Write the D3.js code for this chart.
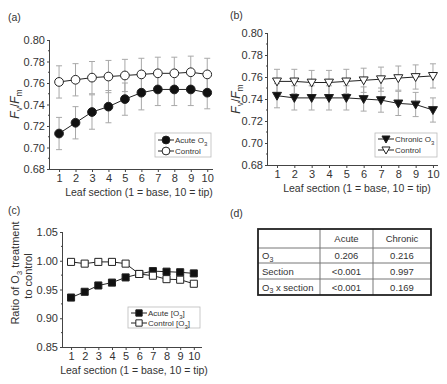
<!DOCTYPE html>
<html><head><meta charset="utf-8">
<script src="https://cdn.jsdelivr.net/npm/d3@7"></script>
<style>
body{margin:0;background:#fff;}
svg{display:block;font-family:"Liberation Sans",Arial,sans-serif;}
</style></head><body>
<svg id="c" width="447" height="384"></svg>
<script>
const sections = [1,2,3,4,5,6,7,8,9,10];
// Panel (a)
const acuteFvFm = [0.713,0.723,0.733,0.738,0.745,0.751,0.754,0.754,0.754,0.751];
const acuteErr  = [0.015,0.015,0.016,0.015,0.015,0.016,0.015,0.015,0.015,0.015];
const ctrlAFvFm = [0.761,0.763,0.765,0.766,0.767,0.768,0.769,0.769,0.770,0.768];
const ctrlAErr  = [0.015,0.015,0.015,0.015,0.015,0.015,0.015,0.015,0.015,0.015];
// Panel (b)
const chronicFvFm = [0.743,0.741,0.741,0.741,0.741,0.740,0.739,0.736,0.735,0.730];
const chronicErr  = [0.011,0.011,0.011,0.011,0.011,0.011,0.011,0.011,0.011,0.011];
const ctrlBFvFm   = [0.756,0.756,0.755,0.755,0.756,0.757,0.758,0.759,0.760,0.761];
const ctrlBErr    = [0.011,0.011,0.011,0.011,0.011,0.011,0.011,0.011,0.011,0.011];
// Panel (c)
const acuteRatio = [0.936,0.946,0.957,0.962,0.971,0.977,0.982,0.981,0.980,0.978];
const ctrlRatio  = [0.998,0.995,0.998,0.998,0.995,0.977,0.974,0.968,0.967,0.960];
// Tick labels
const fvTicks = [0.68,0.70,0.72,0.74,0.76,0.78,0.80];
const ratioTicks = [0.85,0.90,0.95,1.00,1.05];
// Panel (d) table
const tableHeader = ["", "Acute", "Chronic"];
const tableRows = [["O3","0.206","0.216"],["Section","<0.001","0.997"],["O3 x section","<0.001","0.169"]];

const svg = d3.select("#c");
const TXT = "#333", AX = "#444", LINE="#222", ERR="#a8a8a8";

function addRich(t, parts, subSize){
  parts.forEach(p=>{
    const ts = t.append("tspan").text(p.t);
    if(p.i) ts.attr("font-style","italic");
    if(p.sub) ts.attr("dy", 2.5).attr("font-size", subSize);
    if(p.back) ts.attr("dy", -2.5);
  });
}

function panel(o){
  const g = svg.append("g");
  const x = d3.scaleLinear().domain(o.xd).range(o.xr);
  const y = d3.scaleLinear().domain(o.yd).range(o.yr);
  const ax = d3.axisBottom(x).tickValues(sections).tickSize(3).tickPadding(2).tickFormat(d3.format("d"));
  const gx = g.append("g").attr("transform",`translate(0,${o.yr[0]})`).call(ax);
  const ay = d3.axisLeft(y).tickValues(o.yticks).tickSize(3).tickPadding(2).tickFormat(d3.format(".2f"));
  const gy = g.append("g").attr("transform",`translate(${o.xr[0]},0)`).call(ay);
  const minor = [];
  for(let i=0;i<o.yticks.length-1;i++) minor.push((o.yticks[i]+o.yticks[i+1])/2);
  g.append("g").selectAll("line").data(minor).join("line")
    .attr("x1",o.xr[0]).attr("x2",o.xr[0]-2).attr("y1",d=>y(d)).attr("y2",d=>y(d)).attr("stroke",AX);
  [gx,gy].forEach(a=>{
    a.select(".domain").attr("stroke",AX);
    a.selectAll(".tick line").attr("stroke",AX);
    a.selectAll("text").attr("fill",TXT).attr("font-size",11).attr("font-family","Liberation Sans, Arial, sans-serif");
  });
  gx.select(".domain").attr("d",`M${o.xr[0]},0.5H${o.xr[1]}`);
  gy.select(".domain").attr("d",`M-0.5,${o.yr[0]}V${o.yr[1]}`);
  g.append("text").attr("x",(o.xlabX)).attr("y",o.yr[0]+27).attr("text-anchor","middle")
    .attr("font-size",10.5).attr("fill",TXT).text("Leaf section (1 = base, 10 = tip)");
  g.append("text").attr("x",o.tag[0]).attr("y",o.tag[1]).attr("font-size",10.5).attr("fill",TXT).text(o.tag[2]);
  o.series.forEach(s=>{
    if(!s.err) return;
    const eg = g.append("g").attr("stroke",ERR).attr("stroke-width",1);
    sections.forEach((d,i)=>{
      const v = s.values[i], e = s.err[i], cx = x(d);
      eg.append("line").attr("x1",cx).attr("x2",cx).attr("y1",y(v-e)).attr("y2",y(v+e));
      eg.append("line").attr("x1",cx-3).attr("x2",cx+3).attr("y1",y(v-e)).attr("y2",y(v-e));
      eg.append("line").attr("x1",cx-3).attr("x2",cx+3).attr("y1",y(v+e)).attr("y2",y(v+e));
    });
  });
  o.series.forEach(s=>{
    const pts = sections.map((d,i)=>({x:d,v:s.values[i]}));
    g.append("path").datum(pts).attr("fill","none").attr("stroke",LINE).attr("stroke-width",1)
      .attr("d",d3.line().x(p=>x(p.x)).y(p=>y(p.v)));
    g.append("g").selectAll("path").data(pts).join("path")
      .attr("transform",p=>`translate(${x(p.x)},${y(p.v)})`)
      .attr("d",d3.symbol().type(s.sym).size(s.size))
      .attr("fill",s.fill).attr("stroke",LINE).attr("stroke-width",1);
  });
  const L = o.legend;
  g.append("rect").attr("x",L.x).attr("y",L.y).attr("width",L.w).attr("height",L.h)
    .attr("fill","#fff").attr("stroke","#bbb").attr("stroke-width",0.8);
  o.series.forEach((s,i)=>{
    const ly = L.y + L.row0 + i*L.dy;
    g.append("line").attr("x1",L.x+3).attr("x2",L.x+3+L.lw).attr("y1",ly).attr("y2",ly).attr("stroke",LINE);
    g.append("path").attr("transform",`translate(${L.x+3+L.lw/2},${ly})`)
      .attr("d",d3.symbol().type(s.sym).size(s.size*0.8)).attr("fill",s.fill).attr("stroke",LINE);
    const t = g.append("text").attr("x",L.x+4+L.lw).attr("y",ly+3).attr("font-size",8).attr("fill",TXT);
    addRich(t, s.label, 6);
  });
  return {x,y,g};
}

const triDown = {draw(ctx,size){const r=Math.sqrt(size)*0.58;ctx.moveTo(-r,-r*0.75);ctx.lineTo(r,-r*0.75);ctx.lineTo(0,r*1.0);ctx.closePath();}};

panel({
  xd:[0.45,10.35], xr:[50,213], yd:[0.68,0.80], yr:[169,40], yticks:fvTicks,
  xlabX:139, tag:[8,21,"(a)"],
  series:[
    {values:acuteFvFm, err:acuteErr, sym:d3.symbolCircle, size:60, fill:"#111", label:[{t:"Acute O"},{t:"3",sub:true}]},
    {values:ctrlAFvFm, err:ctrlAErr, sym:d3.symbolCircle, size:60, fill:"#fff", label:[{t:"Control"}]}
  ],
  legend:{x:155,y:133,w:56,h:24,row0:7,dy:11,lw:16}
});
panel({
  xd:[0.48,10.29], xr:[268,438], yd:[0.68,0.80], yr:[165,33], yticks:fvTicks,
  xlabX:357, tag:[230,19,"(b)"],
  series:[
    {values:chronicFvFm, err:chronicErr, sym:triDown, size:60, fill:"#111", label:[{t:"Chronic O"},{t:"3",sub:true}]},
    {values:ctrlBFvFm, err:ctrlBErr, sym:triDown, size:60, fill:"#fff", label:[{t:"Control"}]}
  ],
  legend:{x:375,y:133,w:62,h:24,row0:6,dy:11,lw:16}
});
panel({
  xd:[0.41,10.6], xr:[63,202], yd:[0.85,1.05], yr:[347,232], yticks:ratioTicks,
  xlabX:134, tag:[8,214,"(c)"],
  series:[
    {values:acuteRatio, sym:d3.symbolSquare, size:50, fill:"#111", label:[{t:"Acute [O"},{t:"3",sub:true},{t:"]",back:true}]},
    {values:ctrlRatio, sym:d3.symbolSquare, size:50, fill:"#fff", label:[{t:"Control [O"},{t:"3",sub:true},{t:"]",back:true}]}
  ],
  legend:{x:128,y:307,w:72,h:21,row0:6,dy:10,lw:16}
});

function fvLabel(cx,cy){
  const t = svg.append("text").attr("transform",`translate(${cx},${cy}) rotate(-90)`)
    .attr("text-anchor","middle").attr("font-size",12).attr("fill",TXT);
  addRich(t,[{t:"F",i:true},{t:"v",sub:true},{t:"/",back:true},{t:"F",i:true},{t:"m",sub:true}],8.5);
}
fvLabel(19,104);
fvLabel(240,99);
{
  const t1 = svg.append("text").attr("transform","translate(19,273) rotate(-90)")
    .attr("text-anchor","middle").attr("font-size",11).attr("fill",TXT);
  addRich(t1,[{t:"Ratio of O"},{t:"3",sub:true},{t:" treatment",back:true}],7.5);
  svg.append("text").attr("transform","translate(32,276) rotate(-90)")
    .attr("text-anchor","middle").attr("font-size",11).attr("fill",TXT).text("to control");
}

{
  const g = svg.append("g");
  g.append("text").attr("x",230).attr("y",217).attr("font-size",10.5).attr("fill",TXT).text("(d)");
  const colX = [258,320,373,431];
  const rowY = [229,248,263,279,295];
  for(let i=1;i<rowY.length-1;i++)
    g.append("line").attr("x1",colX[0]).attr("x2",colX[3]).attr("y1",rowY[i]).attr("y2",rowY[i]).attr("stroke","#777").attr("stroke-width",1);
  for(let j=1;j<colX.length-1;j++)
    g.append("line").attr("x1",colX[j]).attr("x2",colX[j]).attr("y1",rowY[0]).attr("y2",rowY[4]).attr("stroke","#777").attr("stroke-width",1);
  g.append("rect").attr("x",colX[0]).attr("y",rowY[0]).attr("width",colX[3]-colX[0]).attr("height",rowY[4]-rowY[0])
    .attr("fill","none").attr("stroke","#222").attr("stroke-width",1.8);
  const all = [tableHeader].concat(tableRows);
  all.forEach((row,ri)=>{
    const cy = (rowY[ri]+rowY[ri+1])/2 + 3.5;
    row.forEach((cell,ci)=>{
      if(!cell) return;
      const t = g.append("text").attr("y",cy).attr("font-size",9.5).attr("fill",TXT);
      if(ci===0){ t.attr("x",colX[0]+4); }
      else { t.attr("x",(colX[ci]+colX[ci+1])/2).attr("text-anchor","middle"); }
      if(ci===0 && cell.startsWith("O3")){
        addRich(t,[{t:"O"},{t:"3",sub:true},{t:cell.slice(2),back:true}],7);
      } else t.text(cell);
    });
  });
}
</script>
</body></html>
